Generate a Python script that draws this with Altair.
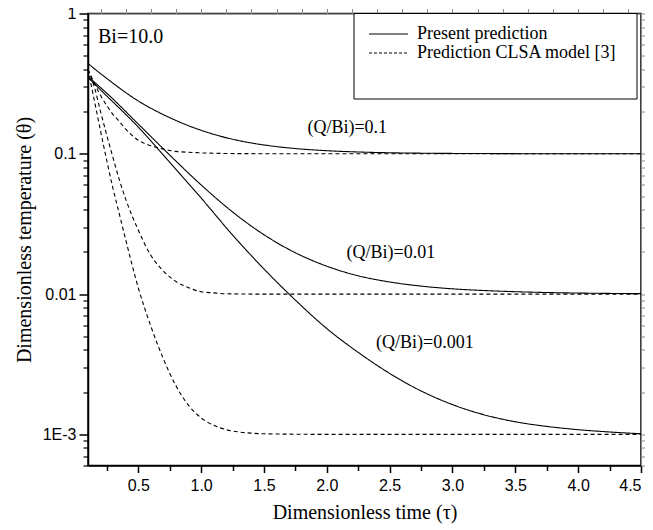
import altair as alt
import pandas as pd

# ---- data ----
t_present = [0.1, 0.25, 0.5, 0.75, 1.0, 1.25, 1.5, 1.75, 2.0, 2.25, 2.5, 2.75,
             3.0, 3.25, 3.5, 3.75, 4.0, 4.25, 4.5]
present_q01 = [0.44, 0.344, 0.238, 0.181, 0.147, 0.127, 0.1156, 0.109, 0.1052, 0.103,
               0.1017, 0.101, 0.1006, 0.1004, 0.1002, 0.1001, 0.1001, 0.1, 0.1]
present_q001 = [0.355, 0.27, 0.163, 0.098, 0.060, 0.0385, 0.0265, 0.0197, 0.0158, 0.0135,
                0.0122, 0.0114, 0.0109, 0.0106, 0.0104, 0.01026, 0.01017, 0.01011, 0.01007]
present_q0001 = [0.35, 0.258, 0.155, 0.087, 0.0484, 0.0264, 0.0151, 0.00906, 0.00568, 0.00384,
                 0.00272, 0.00204, 0.00163, 0.00138, 0.00123, 0.00114, 0.00108, 0.00104, 0.00101]

t_clsa = [0.1, 0.15, 0.2, 0.25, 0.3, 0.35, 0.4, 0.5, 0.6, 0.7, 0.8, 0.9, 1.0, 1.1, 1.2,
          1.3, 1.4, 1.5, 2.0, 2.5, 3.0, 3.5, 4.0, 4.5]
clsa_q01 = [0.40, 0.32, 0.26, 0.22, 0.19, 0.17, 0.150, 0.125, 0.114, 0.108, 0.104, 0.1025,
            0.1015, 0.1009, 0.1005, 0.1003, 0.1002, 0.1001, 0.1, 0.1, 0.1, 0.1, 0.1, 0.1]
clsa_q001 = [0.40, 0.30, 0.20, 0.135, 0.093, 0.065, 0.0475, 0.0286, 0.0189, 0.0146, 0.0123,
             0.0111, 0.0104, 0.0102, 0.01005, 0.01002, 0.01, 0.01, 0.01, 0.01, 0.01, 0.01,
             0.01, 0.01]
clsa_q0001 = [0.40, 0.241, 0.145, 0.089, 0.056, 0.037, 0.0244, 0.0111, 0.0059, 0.00345,
              0.00222, 0.00161, 0.00131, 0.00116, 0.00108, 0.00104, 0.00102, 0.00101, 0.001,
              0.001, 0.001, 0.001, 0.001, 0.001]

legend_labels = ["Present prediction", "Prediction CLSA model [3]"]
ann_text = ["(Q/Bi)=0.1", "(Q/Bi)=0.01", "(Q/Bi)=0.001"]
ann_x = [2.163, 2.51, 2.78]
ann_y = [0.152, 0.0195, 0.00446]
x_major = [0.5, 1.0, 1.5, 2.0, 2.5, 3.0, 3.5, 4.0, 4.5]
x_minor = [0.25, 0.75, 1.25, 1.75, 2.25, 2.75, 3.25, 3.75, 4.25]
y_major = [1, 0.1, 0.01, 0.001]
y_minor = [m * d for d in (0.1, 0.01, 0.001) for m in (2, 3, 4, 5, 6, 7, 8, 9)] + [0.0009, 0.0008, 0.0007, 0.0006]

rows = []
for name, ys in [("p01", present_q01), ("p001", present_q001), ("p0001", present_q0001)]:
    for t, v in zip(t_present, ys):
        rows.append({"t": t, "theta": v, "curve": name, "model": "Present"})
for name, ys in [("c01", clsa_q01), ("c001", clsa_q001), ("c0001", clsa_q0001)]:
    for t, v in zip(t_clsa, ys):
        rows.append({"t": t, "theta": v, "curve": name, "model": "CLSA"})
df = pd.DataFrame(rows)
ann_df = pd.DataFrame({"t": ann_x, "theta": ann_y, "text": ann_text})

SERIF = "Liberation Serif"
SANS = "Liberation Sans"

xscale = alt.Scale(domain=[0.1, 4.5], nice=False, zero=False)
yscale = alt.Scale(type="log", domain=[0.0006, 1], nice=False)

x_axis = alt.Axis(values=x_major, format=".1f", title="Dimensionless time (τ)", orient="bottom",
                  titleFont=SERIF, titleFontSize=20, titleFontWeight="normal", titleColor="black",
                  titleX=276.5, titleY=47, titleBaseline="middle",
                  labelFont=SANS, labelFontSize=16, labelColor="black", labelPadding=5,
                  tickSize=7, tickWidth=1.5, tickColor="black",
                  domainColor="black", domainWidth=1.5, grid=False)
y_axis = alt.Axis(values=y_major, title="Dimensionless temperature (θ)", orient="left",
                  labelExpr="datum.value >= 0.5 ? '1' : datum.value >= 0.05 ? '0.1' : datum.value >= 0.005 ? '0.01' : '1E-3'",
                  titleFont=SERIF, titleFontSize=20, titleFontWeight="normal", titleColor="black",
                  titleX=-64, titleY=226, titleAngle=-90, titleAlign="center", titleBaseline="middle",
                  labelFont=SANS, labelFontSize=16, labelColor="black", labelPadding=3,
                  tickSize=9, tickWidth=1.5, tickColor="black",
                  domainColor="black", domainWidth=1.5, grid=False)
x_axis_minor = alt.Axis(values=x_minor, labels=False, title=None, orient="bottom", domain=False,
                        tickSize=5, tickWidth=1.5, tickColor="black", grid=False)
y_axis_minor = alt.Axis(values=y_minor, labels=False, title=None, orient="left", domain=False,
                        tickSize=5, tickWidth=1.2, tickColor="black", grid=False)

lines = alt.Chart(df).mark_line(interpolate="monotone", color="black").encode(
    x=alt.X("t:Q", scale=xscale, axis=x_axis),
    y=alt.Y("theta:Q", scale=yscale, axis=y_axis),
    detail="curve:N",
    strokeDash=alt.StrokeDash("model:N", scale=alt.Scale(domain=["Present", "CLSA"],
                                                         range=[[1, 0], [4, 3]]), legend=None),
    strokeWidth=alt.StrokeWidth("model:N", scale=alt.Scale(domain=["Present", "CLSA"],
                                                           range=[1.1, 1.1]), legend=None),
)

minor = alt.Chart(df).mark_line(opacity=0).encode(
    x=alt.X("t:Q", scale=xscale, axis=x_axis_minor),
    y=alt.Y("theta:Q", scale=yscale, axis=y_axis_minor),
    detail="curve:N",
)

ann = alt.Chart(ann_df).mark_text(font=SERIF, fontSize=18, color="black",
                                  align="center", baseline="middle").encode(
    x=alt.X("t:Q", scale=xscale), y=alt.Y("theta:Q", scale=yscale), text="text:N")

one = pd.DataFrame({"k": [0]})
bi_text = alt.Chart(one).mark_text(text="Bi=10.0", font=SERIF, fontSize=20, color="black",
                                   align="left", baseline="middle").encode(
    x=alt.value(10), y=alt.value(23.5))

legend_box = alt.Chart(one).mark_rect(fill="white", stroke="black", strokeWidth=1).encode(
    x=alt.value(266), x2=alt.value(549), y=alt.value(0), y2=alt.value(85.5))
leg_solid = alt.Chart(one).mark_rule(color="black", strokeWidth=1.1).encode(
    x=alt.value(281), x2=alt.value(320), y=alt.value(20.5))
leg_dash = alt.Chart(one).mark_rule(color="black", strokeWidth=1.1, strokeDash=[3, 2]).encode(
    x=alt.value(281), x2=alt.value(320), y=alt.value(39.5))
leg_t1 = alt.Chart(one).mark_text(text=legend_labels[0], font=SERIF, fontSize=18, color="black",
                                  align="left", baseline="middle").encode(
    x=alt.value(329), y=alt.value(20.5))
leg_t2 = alt.Chart(one).mark_text(text=legend_labels[1], font=SERIF, fontSize=18, color="black",
                                  align="left", baseline="middle").encode(
    x=alt.value(329), y=alt.value(39.5))

chart = alt.layer(lines, minor, ann, bi_text, legend_box, leg_solid, leg_dash, leg_t1, leg_t2).resolve_axis(
    x="independent", y="independent"
).properties(
    width=553, height=452,
    padding={"left": 80, "top": 5.5, "right": 4, "bottom": 60},
    autosize=alt.AutoSizeParams(type="none"),
    background="white",
).configure_view(stroke="black", strokeWidth=1.5)

chart.save("out.html", embed_options={"renderer": "svg", "actions": False})
